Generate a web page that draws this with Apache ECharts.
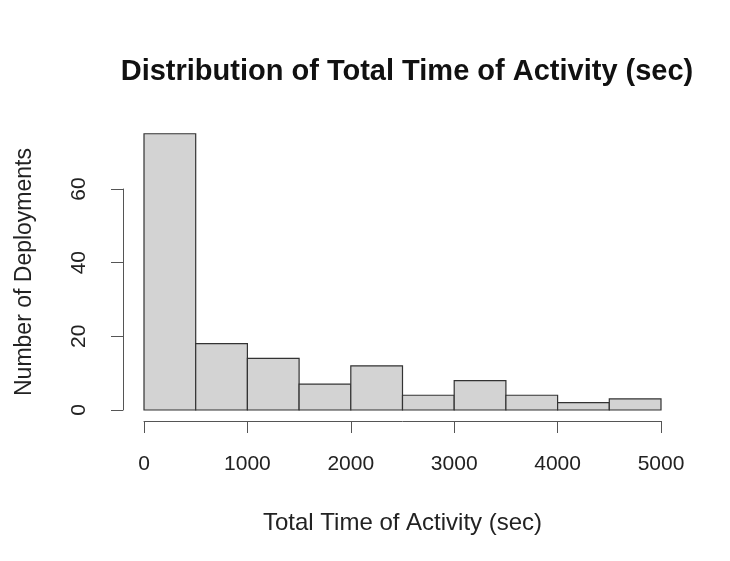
<!DOCTYPE html>
<html>
<head>
<meta charset="utf-8">
<script src="https://cdn.jsdelivr.net/npm/echarts@6/dist/echarts.min.js"></script>
<style>html,body{margin:0;padding:0;background:#fff;}#c{width:730px;height:561px;}</style>
</head>
<body>
<div id="c"></div>
<script>
var binStarts = [0, 500, 1000, 1500, 2000, 2500, 3000, 3500, 4000, 4500];
var binEnds = [500, 1000, 1500, 2000, 2500, 3000, 3500, 4000, 4500, 5000];
var counts = [75, 18, 14, 7, 12, 4, 8, 4, 2, 3];
var xTicks = [0, 1000, 2000, 3000, 4000, 5000];
var yTicks = [0, 20, 40, 60];

var data = binStarts.map(function (s, i) { return [s, binEnds[i], counts[i]]; });
var chart = echarts.init(document.getElementById('c'), null, {renderer: 'canvas'});
var FONT = '"Liberation Sans", Arial, sans-serif';
chart.setOption({
  backgroundColor: '#fff',
  animation: false,
  title: {
    text: 'Distribution of Total Time of Activity (sec)',
    left: 402, top: 52, textAlign: 'center',
    textStyle: {fontFamily: FONT, fontWeight: 'bold', fontSize: 29, color: '#111'}
  },
  graphic: [{
    type: 'text',
    x: 25, y: 272,
    rotation: Math.PI / 2,
    style: {
      text: 'Number of Deployments',
      font: '23px "Liberation Sans", Arial, sans-serif',
      fill: '#222',
      textAlign: 'center',
      textVerticalAlign: 'middle'
    }
  }],
  grid: {left: 144, right: 69, top: 189, bottom: 151},
  xAxis: {
    type: 'value', min: xTicks[0], max: xTicks[xTicks.length - 1], interval: 1000,
    offset: 11,
    name: 'Total Time of Activity (sec)', nameLocation: 'middle', nameGap: 90,
    nameTextStyle: {fontFamily: FONT, fontSize: 24, color: '#222'},
    axisLine: {show: true, onZero: false, lineStyle: {color: '#555', width: 1}},
    axisTick: {show: true, length: 12, inside: false, lineStyle: {color: '#555'}},
    axisLabel: {fontFamily: FONT, fontSize: 21, color: '#222', margin: 33,
      formatter: function (v) { return String(v); }},
    splitLine: {show: false}
  },
  yAxis: {
    type: 'value', min: yTicks[0], max: yTicks[yTicks.length - 1], interval: 20,
    offset: 21,
    axisLine: {show: true, onZero: false, lineStyle: {color: '#555', width: 1}},
    axisTick: {show: true, length: 12, inside: false, lineStyle: {color: '#555'}},
    axisLabel: {fontFamily: FONT, fontSize: 21, color: '#222', margin: 33, rotate: 90},
    splitLine: {show: false}
  },
  series: [{
    type: 'custom',
    clip: false,
    data: data,
    renderItem: function (params, api) {
      var p0 = api.coord([api.value(0), api.value(2)]);
      var p1 = api.coord([api.value(1), 0]);
      return {
        type: 'rect',
        shape: {x: p0[0], y: p0[1], width: p1[0] - p0[0], height: p1[1] - p0[1]},
        style: {fill: '#d3d3d3', stroke: '#333', lineWidth: 1.2}
      };
    }
  }]
});
</script>
</body>
</html>
